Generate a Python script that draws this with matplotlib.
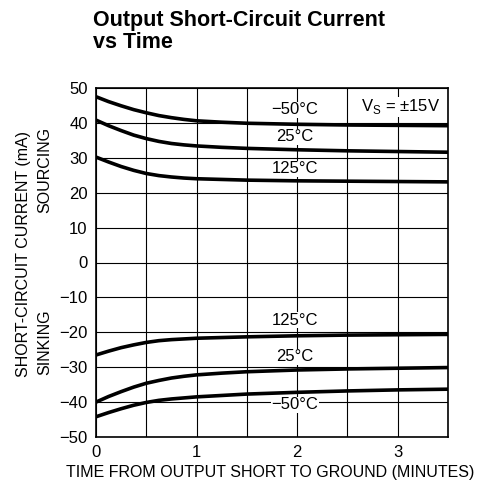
import matplotlib
matplotlib.use("Agg")
import matplotlib.pyplot as plt
import numpy as np

plt.rcParams['font.family'] = ['Liberation Sans', 'DejaVu Sans']

t = [0, 0.125, 0.25, 0.375, 0.5, 0.625, 0.75, 0.875, 1.0, 1.25, 1.5, 2.0, 2.5, 3.0, 3.5]
src_m50 = [47.5, 46.1, 44.9, 43.8, 42.9, 42.1, 41.5, 41.0, 40.6, 40.2, 39.9, 39.6, 39.4, 39.3, 39.2]
src_25 = [40.8, 39.2, 37.8, 36.5, 35.5, 34.7, 34.1, 33.7, 33.4, 33.0, 32.7, 32.3, 32.0, 31.8, 31.6]
src_125 = [30.2, 28.8, 27.5, 26.4, 25.5, 24.9, 24.5, 24.2, 24.0, 23.8, 23.6, 23.4, 23.3, 23.2, 23.1]
snk_125 = [-26.5, -25.4, -24.4, -23.6, -22.9, -22.4, -22.1, -21.9, -21.7, -21.5, -21.3, -21.0, -20.8, -20.7, -20.6]
snk_25 = [-40.0, -38.4, -37.0, -35.7, -34.6, -33.8, -33.1, -32.6, -32.2, -31.7, -31.3, -30.8, -30.5, -30.3, -30.1]
snk_m50 = [-44.2, -43.0, -41.9, -40.9, -40.1, -39.5, -39.1, -38.8, -38.5, -38.1, -37.7, -37.2, -36.8, -36.5, -36.3]
series = [src_m50, src_25, src_125, snk_125, snk_25, snk_m50]

labels = ["\u221250\u00b0C", "25\u00b0C", "125\u00b0C", "125\u00b0C", "25\u00b0C", "\u221250\u00b0C"]
label_y = [43.7, 36.0, 26.8, -16.5, -27.0, -40.8]
label_x = 1.98

xticks = [0, 1, 2, 3]
yticks = [50, 40, 30, 20, 10, 0, -10, -20, -30, -40, -50]

fig = plt.figure(figsize=(4.89, 4.93), dpi=100)
ax = fig.add_axes([96/489, 1-437/493, 352/489, 349/493])

ts = np.array(t)
for s in series:
    ax.plot(ts, s, color='black', lw=2.6, solid_capstyle='butt', solid_joinstyle='round', zorder=3)

ax.set_xlim(0, 3.5)
ax.set_ylim(-50, 50)
ax.set_xticks(np.arange(0, 3.51, 0.5))
ax.set_xticklabels(['0', '', '1', '', '2', '', '3', ''])
ax.set_yticks(yticks)
ax.set_yticklabels([f"{v}".replace('-', '\u2212') for v in yticks])
ax.grid(True, color='black', lw=0.8)
ax.tick_params(length=0, labelsize=12, pad=6)
for sp in ax.spines.values():
    sp.set_linewidth(1.2)

for lab, ly in zip(labels, label_y):
    ax.text(label_x, ly, lab, ha='center', va='center', fontsize=12, zorder=4,
            bbox=dict(facecolor='white', edgecolor='none', pad=0.3))

ax.text(3.42, 44.6, "V$_\\mathregular{S}$ = \u00b115V", ha='right', va='center', fontsize=12, zorder=4,
        bbox=dict(facecolor='white', edgecolor='none', pad=0.3))

fig.text(93/489, 1-10/493, "Output Short-Circuit Current\nvs Time", ha='left', va='top',
         fontsize=15.5, fontweight='bold', linespacing=1.05)

fig.text(24/489, 1-254/493, "SHORT-CIRCUIT CURRENT (mA)", rotation=90, ha='center', va='center', fontsize=11.5)
fig.text(45/489, 1-170/493, "SOURCING", rotation=90, ha='center', va='center', fontsize=11.5)
fig.text(45/489, 1-342/493, "SINKING", rotation=90, ha='center', va='center', fontsize=11.5)
fig.text(270/489, 1-472/493, "TIME FROM OUTPUT SHORT TO GROUND (MINUTES)", ha='center', va='center', fontsize=11.5)

fig.savefig("out.png", dpi=100)
